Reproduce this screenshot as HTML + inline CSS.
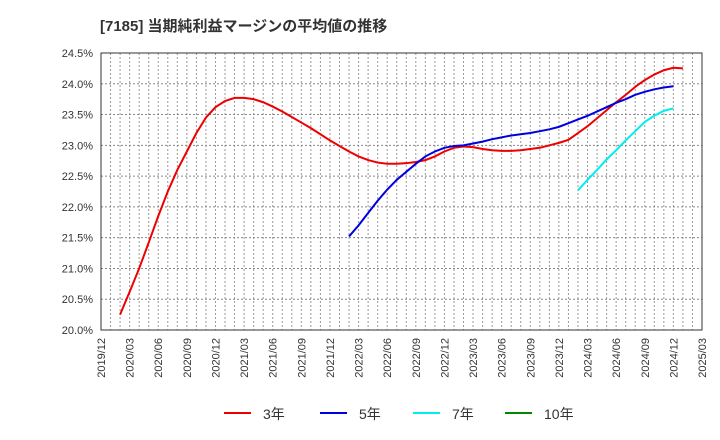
<!DOCTYPE html>
<html><head><meta charset="utf-8"><style>body{margin:0;background:#fff}svg{display:block;font-family:"Liberation Sans","Noto Sans CJK JP",sans-serif}</style></head>
<body><svg width="720" height="440" id="c"></svg>
<script>
const yTicks=[20.0,20.5,21.0,21.5,22.0,22.5,23.0,23.5,24.0,24.5];
const xTickLabels=["2019/12","2020/03","2020/06","2020/09","2020/12","2021/03","2021/06","2021/09","2021/12","2022/03","2022/06","2022/09","2022/12","2023/03","2023/06","2023/09","2023/12","2024/03","2024/06","2024/09","2024/12","2025/03"];
const s3Start=2;
const s3=[20.25,20.62,21.0,21.42,21.85,22.25,22.6,22.9,23.2,23.45,23.62,23.72,23.77,23.77,23.75,23.7,23.63,23.55,23.46,23.37,23.28,23.18,23.08,22.99,22.9,22.82,22.76,22.72,22.7,22.7,22.71,22.73,22.76,22.82,22.9,22.96,22.98,22.97,22.94,22.92,22.91,22.91,22.92,22.94,22.96,23.0,23.04,23.09,23.2,23.31,23.44,23.57,23.7,23.82,23.95,24.06,24.15,24.22,24.26,24.25];
const s5Start=26;
const s5=[21.52,21.7,21.9,22.1,22.28,22.44,22.57,22.7,22.82,22.9,22.96,22.99,23.0,23.03,23.06,23.1,23.13,23.16,23.18,23.2,23.23,23.26,23.3,23.36,23.42,23.48,23.55,23.62,23.69,23.75,23.82,23.87,23.91,23.94,23.96];
const s7Start=50;
const s7=[22.27,22.44,22.6,22.77,22.92,23.08,23.23,23.38,23.48,23.56,23.6];
const s10Start=0;
const s10=[];
const L=101,R=702,T=53,B=330,months=63;
const X=m=>L+(R-L)*m/months, Y=v=>B-(v-20)/(4.5)*(B-T);
const svg=document.getElementById('c');const NS='http://www.w3.org/2000/svg';
function mk(t,a,p){const e=document.createElementNS(NS,t);for(const k in a)e.setAttribute(k,a[k]);(p||svg).appendChild(e);return e;}
const title=mk('text',{x:100,y:31,'font-size':15,'font-weight':'bold',fill:'#333'});title.textContent='[7185]  当期純利益マージンの平均値の推移';


for(let m=1;m<months;m++){const l=mk('line',{x1:X(m),x2:X(m),y1:T,y2:B,stroke:'#999','stroke-dasharray':'2,2','stroke-width':1});

}
yTicks.forEach(v=>{const y=Y(v);const l=mk('line',{x1:L,x2:R,y1:y,y2:y,stroke:'#888','stroke-dasharray':'2,2'});


const t=mk('text',{x:93,y:y+4,'font-size':11,'text-anchor':'end',fill:'#333'});t.textContent=v.toFixed(1)+'%';

});
xTickLabels.forEach((s,i)=>{const x=X(i*3);const t=mk('text',{transform:`translate(${x+4},338) rotate(-90)`,'font-size':11,'text-anchor':'end',fill:'#333'});t.textContent=s;

});
const fr=mk('rect',{x:L,y:T,width:R-L,height:B-T,fill:'none',stroke:'#333','stroke-width':1});


function line(d,st,c,n){if(!d.length)return;const p=mk('polyline',{points:d.map((v,i)=>X(st+i)+','+Y(v)).join(' '),fill:'none',stroke:c,'stroke-width':2});

}
line(s3,s3Start,'#e00','series-3y');line(s5,s5Start,'#00d','series-5y');line(s7,s7Start,'#0ee','series-7y');line(s10,s10Start,'#080','series-10y');
[['3年','#e00',224],['5年','#00d',320],['7年','#0ee',413],['10年','#080',505]].forEach(([n,c,x])=>{const g=mk('g',{});


mk('line',{x1:x,x2:x+27,y1:413,y2:413,stroke:c,'stroke-width':2},g);const t=mk('text',{x:x+39,y:419,'font-size':14,fill:'#333'},g);t.textContent=n;});
</script></body></html>
